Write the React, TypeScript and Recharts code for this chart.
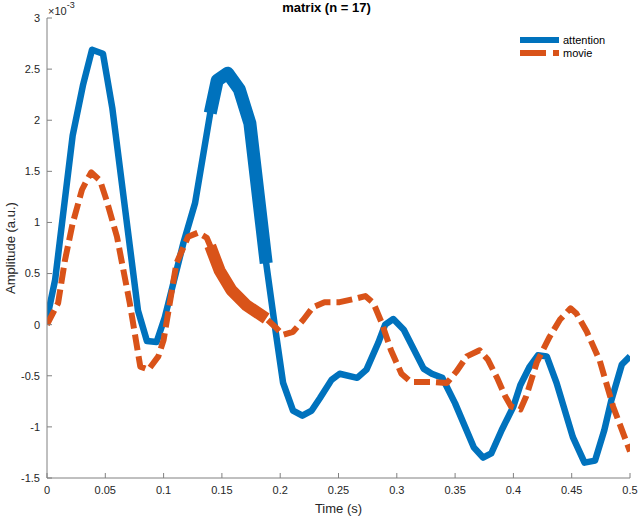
import React from 'react';
import { LineChart, Line, XAxis, YAxis } from 'recharts';

// Time (s) and amplitude (x 1e-3)
const attentionT = [0, 0.007, 0.022, 0.031, 0.0386, 0.048, 0.056, 0.078, 0.0857, 0.094, 0.101, 0.117, 0.127, 0.14, 0.146, 0.155, 0.165, 0.174, 0.188, 0.1955, 0.2025, 0.211, 0.219, 0.227, 0.234, 0.244, 0.251, 0.266, 0.274, 0.284, 0.29, 0.297, 0.306, 0.323, 0.33, 0.339, 0.35, 0.366, 0.374, 0.381, 0.39, 0.4, 0.406, 0.414, 0.421, 0.4286, 0.437, 0.451, 0.461, 0.47, 0.478, 0.484, 0.493, 0.5];
const attentionV = [0.06, 0.44, 1.85, 2.35, 2.69, 2.65, 2.12, 0.14, -0.16, -0.17, 0.07, 0.8, 1.19, 2.07, 2.39, 2.46, 2.3, 1.97, 0.6, -0.02, -0.57, -0.84, -0.89, -0.84, -0.72, -0.54, -0.48, -0.52, -0.44, -0.18, 0, 0.055, -0.05, -0.43, -0.48, -0.52, -0.77, -1.2, -1.3, -1.26, -1.03, -0.8, -0.59, -0.41, -0.3, -0.31, -0.57, -1.1, -1.35, -1.33, -1.03, -0.74, -0.39, -0.31];

const movieT = [0, 0.0095, 0.0154, 0.022, 0.03, 0.034, 0.038, 0.0455, 0.051, 0.06, 0.071, 0.08, 0.087, 0.0955, 0.1, 0.111, 0.121, 0.1295, 0.137, 0.14, 0.148, 0.158, 0.171, 0.188, 0.1955, 0.2025, 0.211, 0.22, 0.228, 0.238, 0.251, 0.263, 0.273, 0.28, 0.287, 0.295, 0.304, 0.312, 0.331, 0.343, 0.351, 0.36, 0.371, 0.378, 0.386, 0.393, 0.398, 0.406, 0.411, 0.42, 0.431, 0.44, 0.449, 0.454, 0.463, 0.474, 0.4855, 0.5];
const movieV = [0, 0.21, 0.63, 0.99, 1.32, 1.41, 1.49, 1.41, 1.22, 0.86, 0.21, -0.41, -0.44, -0.31, -0.15, 0.6, 0.86, 0.9, 0.85, 0.77, 0.53, 0.34, 0.19, 0.06, -0.02, -0.1, -0.07, 0.05, 0.17, 0.22, 0.22, 0.25, 0.28, 0.21, 0.02, -0.25, -0.48, -0.56, -0.56, -0.57, -0.46, -0.31, -0.25, -0.34, -0.52, -0.7, -0.8, -0.83, -0.7, -0.37, -0.12, 0.05, 0.16, 0.11, -0.07, -0.35, -0.8, -1.24];

// significant window (drawn thicker)
const sigStart = 0.14;
const sigEnd = 0.188;

const xTicks = [0, 0.05, 0.1, 0.15, 0.2, 0.25, 0.3, 0.35, 0.4, 0.45, 0.5];
const yTicks = [-1.5, -1, -0.5, 0, 0.5, 1, 1.5, 2, 2.5, 3];
const legendNames = ['attention', 'movie'];

const BLUE = '#0072BD';
const ORANGE = '#D95319';
const FONT = '"Liberation Sans", Arial, Helvetica, sans-serif';

const build = (ts: number[], vs: number[]) => ts.map((t, i) => ({ t, v: vs[i] }));
const attentionData = build(attentionT, attentionV);
const movieData = build(movieT, movieV);
const attentionSig = attentionData.filter((d) => d.t >= sigStart && d.t <= sigEnd);
const movieSig = movieData.filter((d) => d.t >= sigStart && d.t <= sigEnd);

export default function App() {
  return (
    <div style={{ position: 'absolute', left: 0, top: 0, width: 638, height: 517, background: '#fff' }}>
      <LineChart width={638} height={517} margin={{ top: 18, right: 8, bottom: 0, left: 0 }}>
        <XAxis
          dataKey="t"
          type="number"
          domain={[0, 0.5]}
          ticks={xTicks}
          height={39}
          allowDataOverflow
          stroke="#808080"
          tickSize={-5}
          tickMargin={13}
          tick={{ fill: '#262626', fontSize: 11, fontFamily: FONT }}
          label={{ value: 'Time (s)', position: 'insideBottom', offset: 4, fill: '#262626', fontSize: 13, fontFamily: FONT }}
        />
        <YAxis
          dataKey="v"
          type="number"
          domain={[-1.5, 3]}
          ticks={yTicks}
          width={47}
          allowDataOverflow
          stroke="#808080"
          tickSize={-5}
          tickMargin={12}
          tick={{ fill: '#262626', fontSize: 11, fontFamily: FONT }}
          label={{ value: 'Amplitude (a.u.)', angle: -90, position: 'insideLeft', offset: 10, fill: '#262626', fontSize: 13, fontFamily: FONT, style: { textAnchor: 'middle' } }}
        />
        <Line data={attentionData} dataKey="v" name="attention" stroke={BLUE} strokeWidth={6.5} dot={false} activeDot={false} strokeLinecap="butt" strokeLinejoin="round" isAnimationActive={false} />
        <Line data={attentionSig} dataKey="v" name="attention sig" legendType="none" stroke={BLUE} strokeWidth={13} dot={false} activeDot={false} strokeLinecap="butt" strokeLinejoin="round" isAnimationActive={false} />
        <Line data={movieData} dataKey="v" name="movie" stroke={ORANGE} strokeWidth={6} strokeDasharray="16 6" dot={false} activeDot={false} strokeLinecap="butt" strokeLinejoin="round" isAnimationActive={false} />
        <Line data={movieSig} dataKey="v" name="movie sig" legendType="none" stroke={ORANGE} strokeWidth={12} dot={false} activeDot={false} strokeLinecap="butt" strokeLinejoin="round" isAnimationActive={false} />
      </LineChart>
      <svg width={638} height={517} style={{ position: 'absolute', left: 0, top: 0, pointerEvents: 'none' }}>
        <text x={326.5} y={12} textAnchor="middle" fontSize={13} fontWeight="bold" fontFamily={FONT} fill="#000">matrix (n = 17)</text>
        <text x={48} y={15} fontSize={11} fontFamily={FONT} fill="#262626">
          ×10
          <tspan dy={-7} fontSize={9}>-3</tspan>
        </text>
        <g>
          <line x1={520} y1={40} x2={559} y2={40} stroke={BLUE} strokeWidth={6} />
          <text x={563} y={44} fontSize={11} fontFamily={FONT} fill="#000">{legendNames[0]}</text>
          <line x1={520} y1={53} x2={546} y2={53} stroke={ORANGE} strokeWidth={6} />
          <line x1={553} y1={53} x2={559} y2={53} stroke={ORANGE} strokeWidth={6} />
          <text x={563} y={57} fontSize={11} fontFamily={FONT} fill="#000">{legendNames[1]}</text>
        </g>
      </svg>
    </div>
  );
}
